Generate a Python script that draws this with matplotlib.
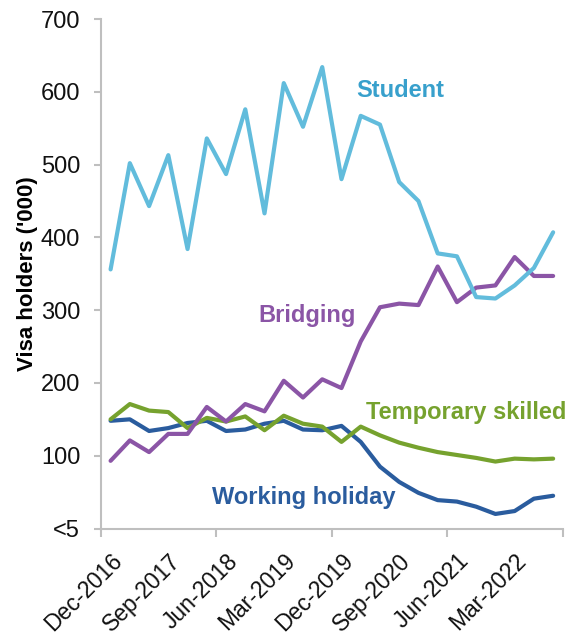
import matplotlib
matplotlib.use("Agg")
import matplotlib.pyplot as plt
from matplotlib.ticker import FixedLocator

plt.rcParams['font.family'] = ['Liberation Sans', 'DejaVu Sans']

quarters = ["Dec-2016", "Mar-2017", "Jun-2017", "Sep-2017", "Dec-2017", "Mar-2018",
            "Jun-2018", "Sep-2018", "Dec-2018", "Mar-2019", "Jun-2019", "Sep-2019",
            "Dec-2019", "Mar-2020", "Jun-2020", "Sep-2020", "Dec-2020", "Mar-2021",
            "Jun-2021", "Sep-2021", "Dec-2021", "Mar-2022", "Jun-2022", "Sep-2022"]

student = [356, 502, 443, 513, 384, 536, 487, 576, 433, 612, 552, 634,
           480, 567, 555, 476, 450, 378, 374, 318, 316, 334, 358, 407]
bridging = [93, 121, 105, 130, 130, 167, 147, 171, 161, 203, 180, 205,
            193, 257, 304, 309, 307, 360, 311, 331, 334, 373, 347, 347]
temp_skilled = [150, 171, 162, 160, 138, 152, 147, 154, 135, 155, 144, 140,
                119, 140, 128, 118, 111, 105, 101, 97, 92, 96, 95, 96]
working_holiday = [148, 150, 134, 138, 145, 148, 134, 136, 144, 148, 136, 135,
                   141, 119, 85, 64, 49, 39, 37, 30, 20, 24, 41, 45]

y_ticks = [0, 100, 200, 300, 400, 500, 600, 700]
y_tick_labels = ["<5", "100", "200", "300", "400", "500", "600", "700"]

c_student = "#62BCDC"
c_bridging = "#8B55A6"
c_temp = "#76A22E"
c_wh = "#2A5C9E"

fig = plt.figure(figsize=(5.76, 6.35), dpi=100)
ax = fig.add_axes([0.1753, 0.1677, 0.977 - 0.1753, 0.970 - 0.1677])

x = list(range(len(quarters)))
lw = 3.0
ax.plot(x, working_holiday, color=c_wh, lw=lw, solid_joinstyle='round', solid_capstyle='round')
ax.plot(x, temp_skilled, color=c_temp, lw=lw, solid_joinstyle='round', solid_capstyle='round')
ax.plot(x, bridging, color=c_bridging, lw=lw, solid_joinstyle='round', solid_capstyle='round')
ax.plot(x, student, color=c_student, lw=lw, solid_joinstyle='round', solid_capstyle='round')

ax.set_xlim(-0.5, len(quarters) - 0.5)
ax.set_ylim(0, 700)

ax.set_yticks(y_ticks)
ax.set_yticklabels(y_tick_labels, fontsize=17, color="#111111")

label_idx = list(range(0, len(quarters), 3))
ax.set_xticks(label_idx)
ax.set_xticklabels([quarters[i] for i in label_idx], rotation=45, ha='right',
                   rotation_mode='anchor', fontsize=16.5, color="#111111")
ax.tick_params(axis='x', which='major', length=0, pad=15)
ax.xaxis.set_minor_locator(FixedLocator([i - 0.5 for i in range(0, len(quarters) + 1, 6)]))
ax.tick_params(axis='x', which='minor', length=6, width=1.5, color="#BFBFBF")
ax.tick_params(axis='y', length=5, width=1.5, color="#BFBFBF", pad=10)

for s in ['top', 'right']:
    ax.spines[s].set_visible(False)
for s in ['left', 'bottom']:
    ax.spines[s].set_color("#BFBFBF")
    ax.spines[s].set_linewidth(1.5)

ax.set_ylabel("Visa holders ('000)", fontsize=16, fontweight='bold', labelpad=2)

fs = 17
ax.text(15.05, 602, "Student", color="#38A0CC", fontsize=fs, fontweight='bold', ha='center', va='center')
ax.text(10.2, 292, "Bridging", color=c_bridging, fontsize=fs, fontweight='bold', ha='center', va='center')
ax.text(13.3, 160, "Temporary skilled", color=c_temp, fontsize=fs, fontweight='bold', ha='left', va='center')
ax.text(5.25, 43, "Working holiday", color=c_wh, fontsize=fs, fontweight='bold', ha='left', va='center')

fig.savefig("out.png", dpi=100)
